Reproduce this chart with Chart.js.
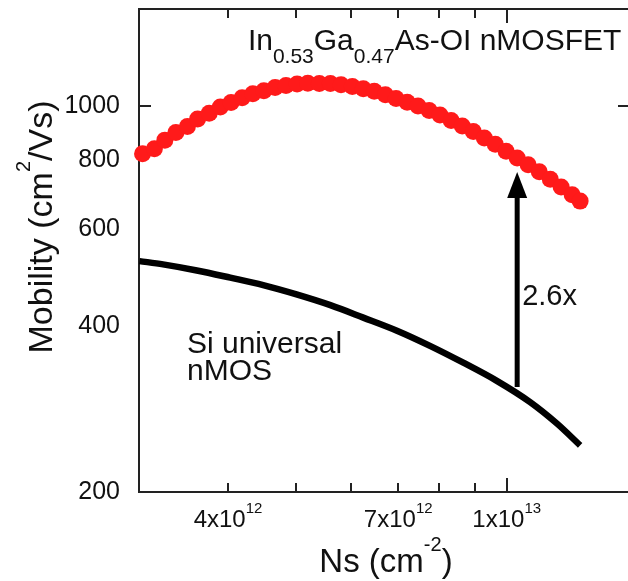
<!DOCTYPE html>
<html>
<head>
<meta charset="utf-8">
<style>
  html, body { margin: 0; padding: 0; background: #fff; }
</style>
<script src="https://cdn.jsdelivr.net/npm/chart.js@4.4.1/dist/chart.umd.min.js"></script>
</head>
<body>
<canvas id="mobilityChart" width="628" height="581"></canvas>
<script>
// InGaAs-OI nMOSFET measured mobility (red dots)
const ingaasNs = [3.02e12, 3.14e12, 3.25e12, 3.37e12, 3.50e12, 3.62e12, 3.76e12, 3.90e12, 4.04e12, 4.19e12,
  4.34e12, 4.50e12, 4.67e12, 4.84e12, 5.02e12, 5.20e12, 5.40e12, 5.60e12, 5.80e12, 6.02e12,
  6.24e12, 6.47e12, 6.71e12, 6.95e12, 7.21e12, 7.47e12, 7.75e12, 8.03e12, 8.33e12, 8.64e12,
  8.96e12, 9.29e12, 9.63e12, 9.98e12, 1.035e13, 1.073e13, 1.113e13, 1.154e13, 1.196e13, 1.240e13, 1.273e13];
const ingaasMobility = [820, 837, 868, 896, 919, 948, 971, 997, 1016, 1036,
  1053, 1067, 1081, 1090, 1097, 1100, 1099, 1099, 1094, 1086,
  1076, 1064, 1049, 1033, 1017, 1001, 982, 964, 942, 921,
  900, 876, 853, 829, 806, 783, 761, 737, 714, 691, 673];

// Si universal nMOS curve (black line)
const siNs = [2.99e12, 3.23e12, 3.61e12, 4.03e12, 4.49e12, 5.01e12, 5.60e12, 6.24e12,
  6.97e12, 7.77e12, 8.67e12, 9.68e12, 1.08e13, 1.18e13, 1.273e13];
const siMobility = [524, 517, 504, 489, 474, 456, 436, 414, 392, 368, 343, 318, 291, 266, 243];

// axes
const xTickValues = [4e12, 7e12, 1e13];
const xTickMantissa = ['4x10', '7x10', '1x10'];
const xTickExponent = ['12', '12', '13'];
const xMinorTicks = [4e12, 5e12, 6e12, 7e12, 8e12, 9e12];
const xMajorTicks = [1e13];
const yTickValues = [200, 400, 600, 800, 1000];
const yMajorTicks = [1000];

// annotations (data coordinates)
const arrowNs = 1.035e13, arrowFromMu = 310, arrowToMu = 760;

const FONT = '"Liberation Sans", Arial, sans-serif';
const INK = '#111';

function richText(ctx, parts, x, y, align) {
  let total = 0;
  parts.forEach(p => {
    ctx.font = p.size + 'px ' + FONT;
    p.w = ctx.measureText(p.t).width;
    total += p.w;
  });
  let cx = align === 'center' ? x - total / 2 : x;
  ctx.textAlign = 'left';
  ctx.textBaseline = 'alphabetic';
  parts.forEach(p => {
    ctx.font = p.size + 'px ' + FONT;
    ctx.fillText(p.t, cx, y + (p.dy || 0));
    cx += p.w;
  });
}

const extras = {
  id: 'extras',
  afterDatasetsDraw(chart) {
    const ctx = chart.ctx;
    const xs = chart.scales.x, ys = chart.scales.y;
    const a = chart.chartArea;
    ctx.save();
    ctx.strokeStyle = '#222';
    ctx.fillStyle = INK;
    ctx.lineWidth = 2;

    // top axis line
    ctx.beginPath();
    ctx.moveTo(a.left, a.top);
    ctx.lineTo(a.right, a.top);
    ctx.stroke();

    // inward tick marks
    const xTick = (v, len) => {
      const px = Math.round(xs.getPixelForValue(v));
      ctx.beginPath();
      ctx.moveTo(px, a.bottom); ctx.lineTo(px, a.bottom - len);
      ctx.moveTo(px, a.top); ctx.lineTo(px, a.top + len);
      ctx.stroke();
    };
    xMinorTicks.forEach(v => xTick(v, 9));
    xMajorTicks.forEach(v => xTick(v, 14));
    yMajorTicks.forEach(v => {
      const py = Math.round(ys.getPixelForValue(v));
      ctx.beginPath();
      ctx.moveTo(a.left, py); ctx.lineTo(a.left + 12, py);
      ctx.moveTo(a.right, py); ctx.lineTo(a.right - 10, py);
      ctx.stroke();
    });

    // x tick labels with exponents
    xTickValues.forEach((v, i) => {
      richText(ctx, [
        { t: xTickMantissa[i], size: 24 },
        { t: xTickExponent[i], size: 15, dy: -14 }
      ], xs.getPixelForValue(v), a.bottom + 35, 'center');
    });

    // axis titles
    richText(ctx, [
      { t: 'Ns (cm', size: 33 },
      { t: '-2', size: 20, dy: -21 },
      { t: ')', size: 33 }
    ], a.left + 247, a.bottom + 80, 'center');

    ctx.save();
    ctx.translate(a.left - 87, a.top + 218);
    ctx.rotate(-Math.PI / 2);
    richText(ctx, [
      { t: 'Mobility (cm', size: 34 },
      { t: '2', size: 20, dy: -22 },
      { t: '/Vs)', size: 34 }
    ], 0, 0, 'center');
    ctx.restore();

    // title inside plot
    richText(ctx, [
      { t: 'In', size: 30 },
      { t: '0.53', size: 21, dy: 13 },
      { t: 'Ga', size: 30 },
      { t: '0.47', size: 21, dy: 13 },
      { t: 'As-OI nMOSFET', size: 30 }
    ], xs.getPixelForValue(4.27e12), ys.getPixelForValue(1264), 'left');

    // Si label
    richText(ctx, [{ t: 'Si universal', size: 30 }],
      xs.getPixelForValue(3.495e12), ys.getPixelForValue(357), 'left');
    richText(ctx, [{ t: 'nMOS', size: 30 }],
      xs.getPixelForValue(3.495e12), ys.getPixelForValue(319), 'left');

    // arrow
    const ax = xs.getPixelForValue(arrowNs);
    const y0 = ys.getPixelForValue(arrowFromMu);
    const y1 = ys.getPixelForValue(arrowToMu);
    ctx.strokeStyle = '#000';
    ctx.fillStyle = '#000';
    ctx.lineWidth = 5;
    ctx.beginPath();
    ctx.moveTo(ax, y0);
    ctx.lineTo(ax, y1 + 22);
    ctx.stroke();
    ctx.beginPath();
    ctx.moveTo(ax, y1);
    ctx.lineTo(ax - 10, y1 + 26);
    ctx.lineTo(ax + 10, y1 + 26);
    ctx.closePath();
    ctx.fill();

    ctx.fillStyle = INK;
    richText(ctx, [{ t: '2.6x', size: 29 }],
      xs.getPixelForValue(1.052e13), ys.getPixelForValue(436), 'left');

    ctx.restore();
  }
};

const mobilityChart = new Chart(document.getElementById('mobilityChart'), {
  type: 'scatter',
  data: {
    datasets: [{
      label: 'In0.53Ga0.47As-OI nMOSFET',
      data: ingaasNs.map((x, i) => ({ x: x, y: ingaasMobility[i] })),
      showLine: false,
      pointRadius: 8.5,
      pointHoverRadius: 8.5,
      pointBorderWidth: 0,
      pointBackgroundColor: '#ff1a1a',
      clip: false,
      order: 0
    }, {
      label: 'Si universal nMOS',
      data: siNs.map((x, i) => ({ x: x, y: siMobility[i] })),
      showLine: true,
      borderColor: '#000',
      borderWidth: 6.5,
      pointRadius: 0,
      cubicInterpolationMode: 'monotone',
      clip: false,
      order: 1
    }]
  },
  options: {
    responsive: false,
    animation: false,
    layout: { autoPadding: false, padding: { top: 9, right: 0, left: 0, bottom: 0 } },
    plugins: {
      legend: { display: false },
      tooltip: { enabled: false }
    },
    scales: {
      x: {
        type: 'logarithmic',
        min: 2.985e12,
        max: 1.49e13,
        grid: { display: false, drawTicks: false },
        border: { display: true, color: '#222', width: 2 },
        ticks: { display: false },
        afterFit(scale) {
          scale.height = 89;
          scale.paddingLeft = 0;
          scale.paddingRight = 0;
        }
      },
      y: {
        type: 'logarithmic',
        min: 200,
        max: 1500,
        grid: { display: false, drawTicks: false },
        border: { display: true, color: '#222', width: 2 },
        ticks: {
          color: INK,
          padding: 19,
          font: { family: '"Liberation Sans", Arial, sans-serif', size: 25 },
          callback: v => String(v)
        },
        afterBuildTicks(scale) { scale.ticks = yTickValues.map(v => ({ value: v })); },
        afterFit(scale) {
          scale.width = 139;
          scale.paddingTop = 0;
          scale.paddingBottom = 0;
        }
      }
    }
  },
  plugins: [extras]
});
</script>
</body>
</html>
